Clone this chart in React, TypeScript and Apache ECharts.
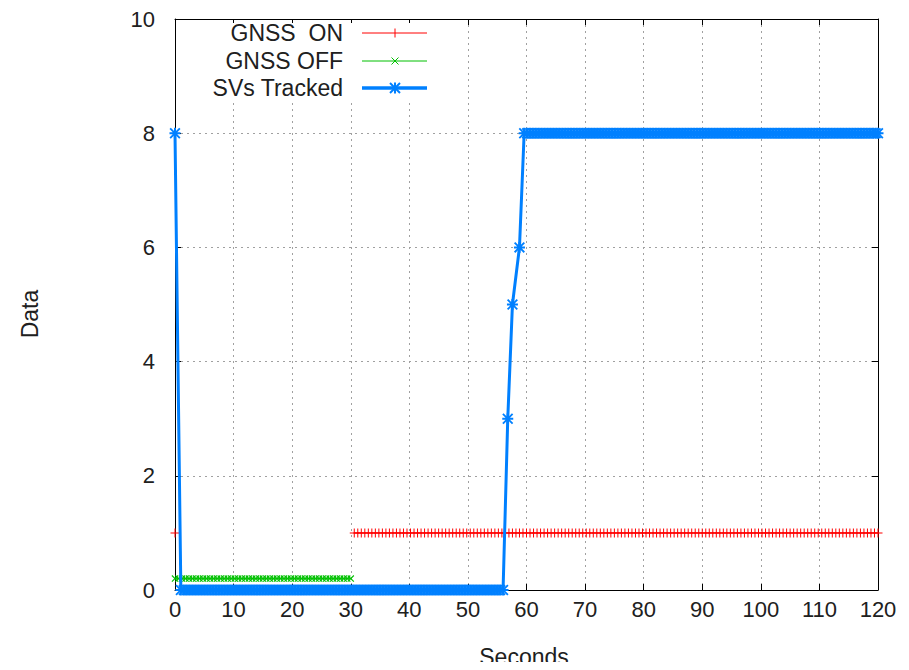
import React, { useEffect, useRef } from "react";
import * as echarts from "echarts";

// ---- axis settings ----
const xTicks = [0, 10, 20, 30, 40, 50, 60, 70, 80, 90, 100, 110, 120];
const yTicks = [0, 2, 4, 6, 8, 10];
const xTitle = "Seconds";
const yTitle = "Data";

// ---- series names ----
const seriesNames = ["GNSS  ON", "GNSS OFF", "SVs Tracked"];

// ---- GNSS ON (value 1) ----
const gnssOnFirst: [number, number][] = [[0, 1]];
const gnssOnRun = { from: 30.6, to: 120, step: 0.6, value: 1 };

// ---- GNSS OFF (value 0.2) ----
const gnssOffRun = { from: 0, to: 30.0, step: 0.6, value: 0.2 };

// ---- SVs Tracked ----
const svsStart: [number, number][] = [[0, 8]];
const svsZeroRun = { from: 1.0, to: 56.0, step: 0.5, value: 0 };
const svsRise: [number, number][] = [
  [56.8, 3],
  [57.6, 5],
  [58.8, 6],
];
const svsTopRun = { from: 59.6, to: 120, step: 0.5, value: 8 };

type Run = { from: number; to: number; step: number; value: number };
function sampleRun(r: Run): [number, number][] {
  const out: [number, number][] = [];
  for (let t = r.from; t < r.to - 1e-6; t += r.step) {
    out.push([Math.round(t * 100) / 100, r.value]);
  }
  out.push([r.to, r.value]);
  return out;
}

const RED = "#ff0000";
const GREEN = "#00c000";
const BLUE = "#0080ff";
const TEXT = "#202020";
const FONT = "Liberation Sans";

const PLUS = "path://M4,0h1v9h-1z M0,4h9v1h-9z";
const CROSS = "path://M0,0.8L0.8,0L7,6.2L6.2,7z M6.2,0L7,0.8L0.8,7L0,6.2z";
const STAR =
  "path://M4.5,0h2v11h-2z M0,4.5h11v2h-11z M0,1.3L1.3,0L11,9.7L9.7,11z M9.7,0L11,1.3L1.3,11L0,9.7z";

// page offset of the chart div (default body margin)
const OFF = 8;

export default function App() {
  const ref = useRef<HTMLDivElement>(null);

  useEffect(() => {
    if (!ref.current) return;
    const chart = echarts.init(ref.current, undefined, { renderer: "svg" });

    const onData: any[] = [...gnssOnFirst, [15, "-"], ...sampleRun(gnssOnRun)];
    const offData = sampleRun(gnssOffRun);
    const svsData = [...svsStart, ...sampleRun(svsZeroRun), ...svsRise, ...sampleRun(svsTopRun)];

    const legendX = 343 - OFF;
    const sampleX1 = 362 - OFF;
    const sampleX2 = 427 - OFF;
    const markX = 395 - OFF;
    const rows = [33, 61, 88].map((v) => v - OFF);

    const axisCommon = {
      type: "value" as const,
      axisLine: { show: true, onZero: false, lineStyle: { color: "#000", width: 1 } },
      axisTick: { show: true, inside: true, length: 6, lineStyle: { color: "#000" } },
    };

    chart.setOption({
      animation: false,
      backgroundColor: "#fff",
      grid: { left: 175 - OFF, right: 23, top: 16 - OFF, bottom: 80, containLabel: false },
      xAxis: [
        {
          ...axisCommon,
          min: xTicks[0],
          max: xTicks[xTicks.length - 1],
          interval: xTicks[1] - xTicks[0],
          position: "bottom",
          axisLabel: { color: TEXT, fontFamily: FONT, fontSize: 22, margin: 8 },
          splitLine: { show: true, lineStyle: { color: "#a0a0a0", type: [2, 4], width: 1 } },
        },
        {
          ...axisCommon,
          min: xTicks[0],
          max: xTicks[xTicks.length - 1],
          interval: xTicks[1] - xTicks[0],
          position: "top",
          axisLabel: { show: false },
          splitLine: { show: false },
        },
      ],
      yAxis: [
        {
          ...axisCommon,
          min: yTicks[0],
          max: yTicks[yTicks.length - 1],
          interval: yTicks[1] - yTicks[0],
          position: "left",
          axisLabel: { color: TEXT, fontFamily: FONT, fontSize: 22, margin: 20 },
          splitLine: { show: true, lineStyle: { color: "#a0a0a0", type: [2, 4], width: 1 } },
        },
        {
          ...axisCommon,
          min: yTicks[0],
          max: yTicks[yTicks.length - 1],
          interval: yTicks[1] - yTicks[0],
          position: "right",
          axisLabel: { show: false },
          splitLine: { show: false },
        },
      ],
      series: [
        {
          name: seriesNames[0],
          type: "line",
          data: onData,
          connectNulls: false,
          symbol: PLUS,
          symbolSize: 9,
          showSymbol: true,
          lineStyle: { color: RED, width: 1 },
          itemStyle: { color: RED, borderWidth: 0 },
          silent: true,
          z: 2,
        },
        {
          name: seriesNames[1],
          type: "line",
          data: offData,
          symbol: CROSS,
          symbolSize: 7,
          showSymbol: true,
          lineStyle: { color: GREEN, width: 1 },
          itemStyle: { color: GREEN, borderWidth: 0 },
          silent: true,
          z: 3,
        },
        {
          name: seriesNames[2],
          type: "line",
          data: svsData,
          symbol: STAR,
          symbolSize: 11,
          showSymbol: true,
          lineStyle: { color: BLUE, width: 3 },
          itemStyle: { color: BLUE, borderWidth: 0 },
          silent: true,
          z: 4,
        },
      ],
      graphic: [
        {
          type: "rect",
          z: 20,
          shape: { x: 176 - OFF, y: 23 - OFF, width: 265, height: 80 },
          style: { fill: "#fff" },
          silent: true,
        },
        ...seriesNames.map((n, i) => ({
          type: "text",
          z: 21,
          x: legendX,
          y: rows[i],
          style: {
            text: n,
            fill: TEXT,
            font: `23px "${FONT}"`,
            textAlign: "right",
            textVerticalAlign: "middle",
          },
          silent: true,
        })),
        {
          type: "line",
          z: 21,
          shape: { x1: sampleX1, y1: rows[0], x2: sampleX2, y2: rows[0] },
          style: { stroke: RED, lineWidth: 1 },
        },
        {
          type: "line",
          z: 21,
          shape: { x1: markX, y1: rows[0] - 4.5, x2: markX, y2: rows[0] + 4.5 },
          style: { stroke: RED, lineWidth: 1 },
        },
        {
          type: "line",
          z: 21,
          shape: { x1: sampleX1, y1: rows[1], x2: sampleX2, y2: rows[1] },
          style: { stroke: GREEN, lineWidth: 1 },
        },
        {
          type: "line",
          z: 21,
          shape: { x1: markX - 3.5, y1: rows[1] - 3.5, x2: markX + 3.5, y2: rows[1] + 3.5 },
          style: { stroke: GREEN, lineWidth: 1 },
        },
        {
          type: "line",
          z: 21,
          shape: { x1: markX - 3.5, y1: rows[1] + 3.5, x2: markX + 3.5, y2: rows[1] - 3.5 },
          style: { stroke: GREEN, lineWidth: 1 },
        },
        {
          type: "line",
          z: 21,
          shape: { x1: sampleX1, y1: rows[2], x2: sampleX2, y2: rows[2] },
          style: { stroke: BLUE, lineWidth: 3.5 },
        },
        {
          type: "line",
          z: 21,
          shape: { x1: markX, y1: rows[2] - 5.5, x2: markX, y2: rows[2] + 5.5 },
          style: { stroke: BLUE, lineWidth: 2 },
        },
        {
          type: "line",
          z: 21,
          shape: { x1: markX - 5, y1: rows[2] - 5, x2: markX + 5, y2: rows[2] + 5 },
          style: { stroke: BLUE, lineWidth: 2 },
        },
        {
          type: "line",
          z: 21,
          shape: { x1: markX - 5, y1: rows[2] + 5, x2: markX + 5, y2: rows[2] - 5 },
          style: { stroke: BLUE, lineWidth: 2 },
        },
        {
          type: "text",
          z: 21,
          x: 524 - OFF,
          y: 657 - OFF,
          style: {
            text: xTitle,
            fill: TEXT,
            font: `23px "${FONT}"`,
            textAlign: "center",
            textVerticalAlign: "middle",
          },
          silent: true,
        },
        {
          type: "text",
          z: 21,
          x: 30 - OFF,
          y: 314 - OFF,
          rotation: Math.PI / 2,
          style: {
            text: yTitle,
            fill: TEXT,
            font: `23px "${FONT}"`,
            textAlign: "center",
            textVerticalAlign: "middle",
          },
          silent: true,
        },
      ],
    });

    return () => chart.dispose();
  }, []);

  return <div ref={ref} style={{ width: 893, height: 662, marginBottom: -8 }} />;
}
